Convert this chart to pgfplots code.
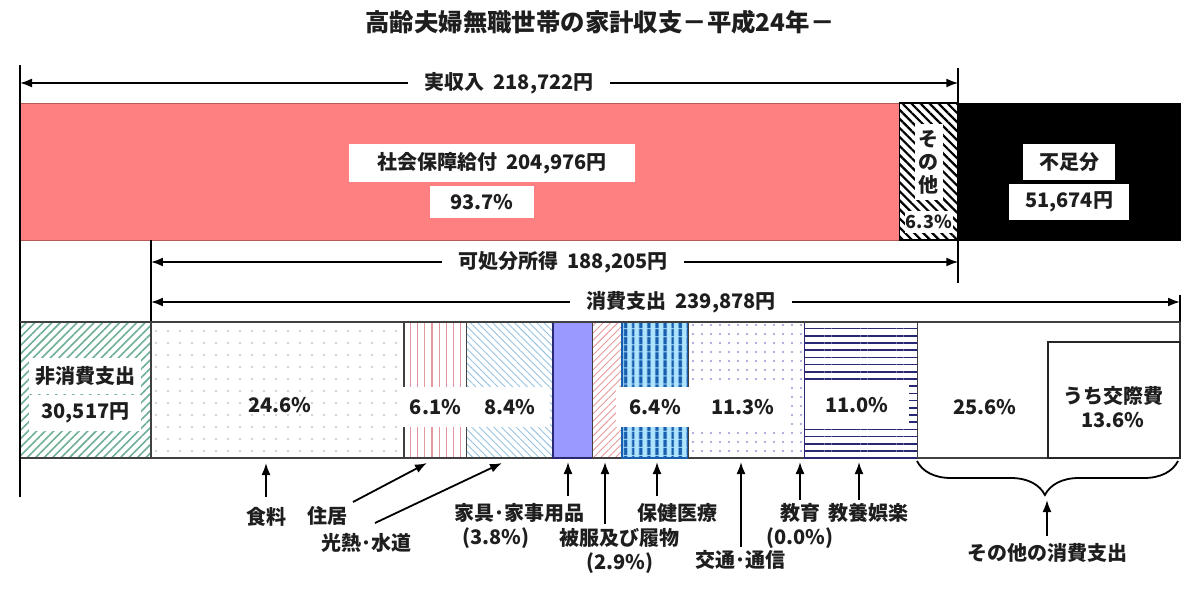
\documentclass[border=0pt]{standalone}
\usepackage{pgfplots}
\pgfplotsset{compat=1.18}
\usepackage{fontspec}
\setmainfont{Noto Sans CJK JP}
\usetikzlibrary{patterns,patterns.meta,arrows.meta,decorations.pathreplacing}
\definecolor{salmon}{RGB}{255,128,128}
\definecolor{nonc}{RGB}{110,175,150}
\definecolor{foodc}{RGB}{195,195,195}
\definecolor{housec}{RGB}{225,150,160}
\definecolor{utilc}{RGB}{150,195,225}
\definecolor{furnc}{RGB}{153,153,255}
\definecolor{clothc}{RGB}{230,155,155}
\definecolor{healthbg}{RGB}{175,228,255}
\definecolor{healthc}{RGB}{25,95,175}
\definecolor{transc}{RGB}{150,150,215}
\definecolor{leisc}{RGB}{40,40,115}
\definecolor{txt}{RGB}{30,30,30}
\newcommand{\seg}[5]{\addplot[#1] coordinates {(#2,#4) (#3,#4) (#3,#5) (#2,#5)} -- cycle;}
\tikzset{
  lab/.style={font=\fontsize{10}{12}\selectfont\bfseries, text=txt, inner sep=1pt},
  box/.style={lab, fill=white, inner xsep=5pt, inner ysep=4pt},
  arr/.style={-{Latex[length=6pt,width=4.5pt]}, line width=0.9pt},
  darr/.style={{Latex[length=6pt,width=4.5pt]}-{Latex[length=6pt,width=4.5pt]}, line width=0.9pt},
}
\begin{document}
\begin{tikzpicture}
\begin{axis}[width=600pt,height=297.5pt,scale only axis,
  xmin=-4662,xmax=275058,ymin=0,ymax=595,y dir=reverse,
  hide axis,clip=false,no marks]
\path (rel axis cs:0,0) rectangle (rel axis cs:1,1);

% ---------- top row: income + deficit ----------
\seg{fill=salmon,draw=salmon!70!black,line width=0.5pt}{0}{204976}{103}{240}
\seg{pattern={Lines[angle=-45,distance=3.2pt,line width=1.1pt]},pattern color=black,draw=black,line width=0.6pt}{204976}{218722}{103}{240}
\seg{fill=black,draw=black}{218722}{270396}{103}{240}

% ---------- bottom row: non-consumption + consumption ----------
\seg{pattern={Lines[angle=45,distance=3pt,line width=0.8pt]},pattern color=nonc,draw=black!75,line width=0.6pt}{0}{30517}{322}{458}
\seg{pattern={Dots[radius=0.55pt,distance=6pt]},pattern color=foodc,draw=black!75,line width=0.6pt}{30517}{89527}{322}{458}
\seg{pattern={Lines[angle=90,distance=3.6pt,line width=0.6pt]},pattern color=housec,draw=black!75,line width=0.6pt}{89527}{104160}{322}{458}
\seg{pattern={Lines[angle=-45,distance=2.6pt,line width=0.45pt]},pattern color=utilc,draw=black!75,line width=0.6pt}{104160}{124310}{322}{458}
\seg{fill=furnc,draw=leisc,line width=0.8pt}{124310}{133425}{322}{458}
\seg{pattern={Lines[angle=45,distance=2.6pt,line width=0.45pt]},pattern color=clothc,draw=black!75,line width=0.6pt}{133425}{140381}{322}{458}
\seg{fill=healthbg,draw=none}{140381}{155733}{322}{458}
\seg{pattern={Lines[angle=90,distance=4pt,line width=2pt]},pattern color=healthc,draw=healthc,line width=0.8pt}{140381}{155733}{322}{458}
\seg{pattern={Dots[radius=0.6pt,distance=4.5pt]},pattern color=transc,draw=black!75,line width=0.6pt}{155733}{182839}{322}{458}
\seg{pattern={Lines[angle=0,distance=3.6pt,line width=0.8pt]},pattern color=leisc,draw=leisc,line width=0.8pt}{182839}{209226}{322}{458}
\seg{fill=white,draw=black!75,line width=0.6pt}{209226}{270396}{322}{458}
\seg{fill=white,draw=black!85,line width=0.8pt}{239630}{270396}{342}{458}

% ---------- structure lines ----------
\draw[line width=1.1pt] (axis cs:0,65) -- (axis cs:0,497);
\draw[line width=1.1pt] (axis cs:218722,68) -- (axis cs:218722,283);
\draw[line width=1.1pt] (axis cs:30517,240) -- (axis cs:30517,322);
\draw[line width=1.1pt] (axis cs:270396,295) -- (axis cs:270396,322);
\draw[line width=0.6pt,black!75] (axis cs:0,322) -- (axis cs:270396,322);

% ---------- span arrows ----------
\draw[darr] (axis cs:0,83) -- (axis cs:218722,83);
\node[lab,fill=white,inner xsep=8pt] at (axis cs:113986,83) {実収入\ \ 218,722円};
\draw[darr] (axis cs:30517,262) -- (axis cs:218722,262);
\node[lab,fill=white,inner xsep=8pt] at (axis cs:126573,262) {可処分所得\ \ 188,205円};
\draw[darr] (axis cs:30517,302) -- (axis cs:270396,302);
\node[lab,fill=white,inner xsep=8pt] at (axis cs:154079,302) {消費支出\ \ 239,878円};

% ---------- title ----------
\node[font=\fontsize{12.2}{14}\selectfont\bfseries, text=txt] at (axis cs:135200,22) {高齢夫婦無職世帯の家計収支－平成24年－};

% ---------- labels in top row ----------
\node[box,inner xsep=14pt] at (axis cs:110023,163) {社会保障給付\ \ 204,976円};
\node[box,inner xsep=10pt] at (axis cs:107692,202) {93.7\%};
\node[lab,fill=white,align=center,inner xsep=2pt,inner ysep=3pt,font=\fontsize{10}{11.5}\selectfont\bfseries] at (axis cs:211849,162) {そ\\の\\他};
\node[lab,fill=white,inner xsep=0.5pt,inner ysep=2pt,font=\fontsize{9}{10}\selectfont\bfseries] at (axis cs:211849,222) {6.3\%};
\node[box,inner xsep=8pt] at (axis cs:244559,162) {不足分};
\node[box,inner xsep=8pt] at (axis cs:244559,202) {51,674円};

% ---------- labels in bottom row ----------
\node[box,inner xsep=3pt] at (axis cs:15258,376) {非消費支出};
\node[box,inner xsep=6pt] at (axis cs:15258,413) {30,517円};
\node[lab] at (axis cs:60606,405) {24.6\%};
\node[box,inner xsep=6pt,inner ysep=6pt] at (axis cs:96844,407) {6.1\%};
\node[box,inner xsep=7pt,inner ysep=6pt] at (axis cs:114235,407) {8.4\%};
\node[box,inner xsep=7pt,inner ysep=6pt] at (axis cs:148057,407) {6.4\%};
\node[box,inner xsep=5pt,inner ysep=6pt] at (axis cs:168531,407) {11.3\%};
\node[box,inner xsep=10pt,inner ysep=6pt] at (axis cs:195105,405) {11.0\%};
\node[lab] at (axis cs:224942,407) {25.6\%};
\node[lab,align=center,font=\fontsize{10}{12}\selectfont\bfseries] at (axis cs:254788,407) {うち交際費\\13.6\%};

% ---------- labels below ----------
\draw[arr] (axis cs:57343,497) -- (axis cs:57343,463);
\node[lab] at (axis cs:57343,517) {食料};
\draw[arr] (axis cs:77622,502) -- (axis cs:94872,463);
\node[lab] at (axis cs:71562,516) {住居};
\draw[arr] (axis cs:82751,523) -- (axis cs:112354,463);
\node[lab] at (axis cs:80653,543) {光熱･水道};
\draw[arr] (axis cs:127739,496) -- (axis cs:127739,462);
\node[lab] at (axis cs:116317,513) {家具･家事用品};
\node[lab] at (axis cs:110956,538) {(3.8\%)};
\draw[arr] (axis cs:136364,524) -- (axis cs:136364,462);
\node[lab] at (axis cs:139627,538) {被服及び履物};
\node[lab] at (axis cs:139860,563) {(2.9\%)};
\draw[arr] (axis cs:148485,496) -- (axis cs:148485,462);
\node[lab] at (axis cs:153147,513) {保健医療};
\draw[arr] (axis cs:168065,547) -- (axis cs:168065,462);
\node[lab] at (axis cs:167832,560) {交通･通信};
\draw[arr] (axis cs:181818,500) -- (axis cs:181818,462);
\node[lab] at (axis cs:181818,513) {教育};
\node[lab] at (axis cs:181818,538) {(0.0\%)};
\draw[arr] (axis cs:195571,500) -- (axis cs:195571,462);
\node[lab] at (axis cs:197669,513) {教養娯楽};
\draw[line width=0.9pt,decorate,decoration={brace,mirror,amplitude=17pt,aspect=0.49}] (axis cs:209091,461) -- (axis cs:269930,461);
\draw[arr] (axis cs:239394,536) -- (axis cs:239394,500);
\node[lab] at (axis cs:239394,553) {その他の消費支出};
\end{axis}
\end{tikzpicture}
\end{document}
